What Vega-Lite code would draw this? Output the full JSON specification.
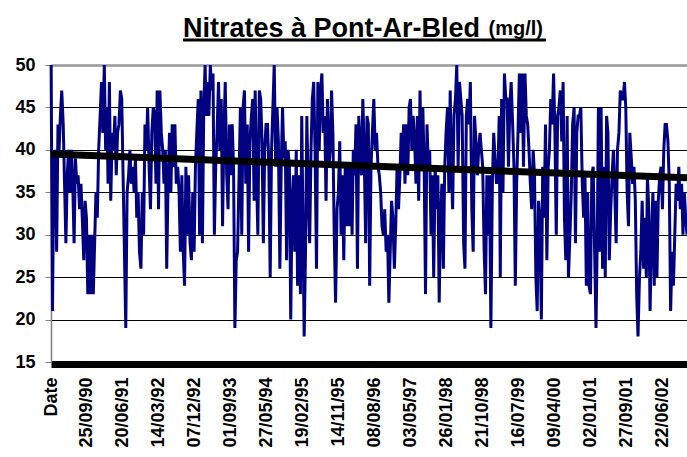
{
"$schema": "https://vega.github.io/schema/vega-lite/v6.json",
"width": 636, "height": 297,
"autosize": "none",
"padding": {"left": 51, "top": 65, "right": 0, "bottom": 95},
"background": "white",
"config": {"view": {"stroke": null}, "font": "Liberation Sans", "axis": {"labelOverlap": false}, "axisX": {"labelOverlap": false}},
"title": {"text": "Nitrates à Pont-Ar-Bled", "font": "Liberation Sans", "fontSize": 27, "fontWeight": "bold", "color": "black", "anchor": "start", "frame": "group", "dx": 132, "baseline": "alphabetic", "offset": -46},
"resolve": {"axis": {"x": "independent", "y": "independent"}},
"datasets": {
"nitrates": [
{"d":"1990-01-01","v":50},{"d":"1990-01-11","v":21},{"d":"1990-01-21","v":38},{"d":"1990-02-01","v":40},{"d":"1990-02-11","v":28},{"d":"1990-02-21","v":43},{"d":"1990-03-01","v":40},{"d":"1990-03-11","v":44},{"d":"1990-03-21","v":47},{"d":"1990-04-01","v":43},{"d":"1990-04-11","v":36},{"d":"1990-04-21","v":29},{"d":"1990-05-01","v":37},{"d":"1990-05-11","v":40},{"d":"1990-05-21","v":35},{"d":"1990-06-01","v":40},{"d":"1990-06-11","v":36},{"d":"1990-06-21","v":29},{"d":"1990-07-01","v":39},{"d":"1990-07-11","v":36},{"d":"1990-07-21","v":37},{"d":"1990-08-01","v":33},{"d":"1990-08-11","v":36},{"d":"1990-08-21","v":32},{"d":"1990-09-01","v":27},{"d":"1990-09-11","v":34},{"d":"1990-09-21","v":32},{"d":"1990-10-01","v":23},{"d":"1990-10-11","v":30},{"d":"1990-10-21","v":23},{"d":"1990-11-01","v":30},{"d":"1990-11-11","v":23},{"d":"1990-11-21","v":29},{"d":"1990-12-01","v":35},{"d":"1990-12-11","v":32},{"d":"1990-12-21","v":40},
{"d":"1991-01-01","v":44},{"d":"1991-01-11","v":48},{"d":"1991-01-21","v":42},{"d":"1991-02-01","v":50},{"d":"1991-02-11","v":40},{"d":"1991-02-21","v":45},{"d":"1991-03-01","v":36},{"d":"1991-03-11","v":48},{"d":"1991-03-21","v":34},{"d":"1991-04-01","v":42},{"d":"1991-04-11","v":40},{"d":"1991-04-21","v":44},{"d":"1991-05-01","v":37},{"d":"1991-05-11","v":42},{"d":"1991-05-21","v":43},{"d":"1991-06-01","v":47},{"d":"1991-06-11","v":46},{"d":"1991-06-21","v":37},{"d":"1991-07-01","v":28},{"d":"1991-07-11","v":19},{"d":"1991-07-21","v":35},{"d":"1991-08-01","v":37},{"d":"1991-08-11","v":40},{"d":"1991-08-21","v":36},{"d":"1991-09-01","v":38},{"d":"1991-09-11","v":35},{"d":"1991-09-21","v":39},{"d":"1991-10-01","v":32},{"d":"1991-10-11","v":35},{"d":"1991-10-21","v":28},{"d":"1991-11-01","v":26},{"d":"1991-11-11","v":35},{"d":"1991-11-21","v":30},{"d":"1991-12-01","v":43},{"d":"1991-12-11","v":40},{"d":"1991-12-21","v":45},
{"d":"1992-01-01","v":38},{"d":"1992-01-11","v":33},{"d":"1992-01-21","v":42},{"d":"1992-02-01","v":45},{"d":"1992-02-11","v":44},{"d":"1992-02-21","v":36},{"d":"1992-03-01","v":47},{"d":"1992-03-11","v":33},{"d":"1992-03-21","v":47},{"d":"1992-04-01","v":42},{"d":"1992-04-11","v":40},{"d":"1992-04-21","v":36},{"d":"1992-05-01","v":40},{"d":"1992-05-11","v":26},{"d":"1992-05-21","v":36},{"d":"1992-06-01","v":42},{"d":"1992-06-11","v":35},{"d":"1992-06-21","v":43},{"d":"1992-07-01","v":38},{"d":"1992-07-11","v":43},{"d":"1992-07-21","v":36},{"d":"1992-08-01","v":38},{"d":"1992-08-11","v":35},{"d":"1992-08-21","v":28},{"d":"1992-09-01","v":37},{"d":"1992-09-11","v":28},{"d":"1992-09-21","v":24},{"d":"1992-10-01","v":38},{"d":"1992-10-11","v":30},{"d":"1992-10-21","v":37},{"d":"1992-11-01","v":29},{"d":"1992-11-11","v":27},{"d":"1992-11-21","v":35},{"d":"1992-12-01","v":28},{"d":"1992-12-11","v":38},{"d":"1992-12-21","v":42},
{"d":"1993-01-01","v":46},{"d":"1993-01-11","v":30},{"d":"1993-01-21","v":47},{"d":"1993-02-01","v":29},{"d":"1993-02-11","v":45},{"d":"1993-02-21","v":50},{"d":"1993-03-01","v":44},{"d":"1993-03-11","v":48},{"d":"1993-03-21","v":44},{"d":"1993-04-01","v":50},{"d":"1993-04-11","v":47},{"d":"1993-04-21","v":49},{"d":"1993-05-01","v":30},{"d":"1993-05-11","v":38},{"d":"1993-05-21","v":42},{"d":"1993-06-01","v":48},{"d":"1993-06-11","v":40},{"d":"1993-06-21","v":46},{"d":"1993-07-01","v":31},{"d":"1993-07-11","v":42},{"d":"1993-07-21","v":48},{"d":"1993-08-01","v":37},{"d":"1993-08-11","v":33},{"d":"1993-08-21","v":43},{"d":"1993-09-01","v":37},{"d":"1993-09-11","v":43},{"d":"1993-09-21","v":38},{"d":"1993-10-01","v":19},{"d":"1993-10-11","v":27},{"d":"1993-10-21","v":28},{"d":"1993-11-01","v":37},{"d":"1993-11-11","v":45},{"d":"1993-11-21","v":30},{"d":"1993-12-01","v":45},{"d":"1993-12-11","v":47},{"d":"1993-12-21","v":36},
{"d":"1994-01-01","v":43},{"d":"1994-01-11","v":28},{"d":"1994-01-21","v":41},{"d":"1994-02-01","v":44},{"d":"1994-02-11","v":46},{"d":"1994-02-21","v":34},{"d":"1994-03-01","v":47},{"d":"1994-03-11","v":37},{"d":"1994-03-21","v":30},{"d":"1994-04-01","v":47},{"d":"1994-04-11","v":46},{"d":"1994-04-21","v":41},{"d":"1994-05-01","v":29},{"d":"1994-05-11","v":40},{"d":"1994-05-21","v":43},{"d":"1994-06-01","v":43},{"d":"1994-06-11","v":38},{"d":"1994-06-21","v":25},{"d":"1994-07-01","v":40},{"d":"1994-07-11","v":45},{"d":"1994-07-21","v":50},{"d":"1994-08-01","v":38},{"d":"1994-08-11","v":45},{"d":"1994-08-21","v":41},{"d":"1994-09-01","v":26},{"d":"1994-09-11","v":38},{"d":"1994-09-21","v":45},{"d":"1994-10-01","v":39},{"d":"1994-10-11","v":41},{"d":"1994-10-21","v":27},{"d":"1994-11-01","v":40},{"d":"1994-11-11","v":38},{"d":"1994-11-21","v":20},{"d":"1994-12-01","v":34},{"d":"1994-12-11","v":37},{"d":"1994-12-21","v":28},
{"d":"1995-01-01","v":40},{"d":"1995-01-11","v":24},{"d":"1995-01-21","v":37},{"d":"1995-02-01","v":23},{"d":"1995-02-11","v":44},{"d":"1995-02-21","v":30},{"d":"1995-03-01","v":18},{"d":"1995-03-11","v":28},{"d":"1995-03-21","v":44},{"d":"1995-04-01","v":34},{"d":"1995-04-11","v":29},{"d":"1995-04-21","v":40},{"d":"1995-05-01","v":46},{"d":"1995-05-11","v":48},{"d":"1995-05-21","v":40},{"d":"1995-06-01","v":26},{"d":"1995-06-11","v":48},{"d":"1995-06-21","v":40},{"d":"1995-07-01","v":47},{"d":"1995-07-11","v":49},{"d":"1995-07-21","v":42},{"d":"1995-08-01","v":44},{"d":"1995-08-11","v":34},{"d":"1995-08-21","v":46},{"d":"1995-09-01","v":38},{"d":"1995-09-11","v":40},{"d":"1995-09-21","v":47},{"d":"1995-10-01","v":42},{"d":"1995-10-11","v":30},{"d":"1995-10-21","v":22},{"d":"1995-11-01","v":33},{"d":"1995-11-11","v":35},{"d":"1995-11-21","v":41},{"d":"1995-12-01","v":30},{"d":"1995-12-11","v":37},{"d":"1995-12-21","v":27},
{"d":"1996-01-01","v":38},{"d":"1996-01-11","v":31},{"d":"1996-01-21","v":38},{"d":"1996-02-01","v":31},{"d":"1996-02-11","v":38},{"d":"1996-02-21","v":30},{"d":"1996-03-01","v":40},{"d":"1996-03-11","v":37},{"d":"1996-03-21","v":43},{"d":"1996-04-01","v":26},{"d":"1996-04-11","v":44},{"d":"1996-04-21","v":40},{"d":"1996-05-01","v":37},{"d":"1996-05-11","v":46},{"d":"1996-05-21","v":40},{"d":"1996-06-01","v":29},{"d":"1996-06-11","v":44},{"d":"1996-06-21","v":43},{"d":"1996-07-01","v":24},{"d":"1996-07-11","v":38},{"d":"1996-07-21","v":42},{"d":"1996-08-01","v":46},{"d":"1996-08-11","v":40},{"d":"1996-08-21","v":42},{"d":"1996-09-01","v":38},{"d":"1996-09-11","v":37},{"d":"1996-09-21","v":35},{"d":"1996-10-01","v":31},{"d":"1996-10-11","v":30},{"d":"1996-10-21","v":33},{"d":"1996-11-01","v":28},{"d":"1996-11-11","v":30},{"d":"1996-11-21","v":22},{"d":"1996-12-01","v":28},{"d":"1996-12-11","v":34},{"d":"1996-12-21","v":32},
{"d":"1997-01-01","v":26},{"d":"1997-01-11","v":31},{"d":"1997-01-21","v":38},{"d":"1997-02-01","v":33},{"d":"1997-02-11","v":37},{"d":"1997-02-21","v":42},{"d":"1997-03-01","v":38},{"d":"1997-03-11","v":43},{"d":"1997-03-21","v":36},{"d":"1997-04-01","v":43},{"d":"1997-04-11","v":37},{"d":"1997-04-21","v":45},{"d":"1997-05-01","v":46},{"d":"1997-05-11","v":40},{"d":"1997-05-21","v":44},{"d":"1997-06-01","v":41},{"d":"1997-06-11","v":36},{"d":"1997-06-21","v":44},{"d":"1997-07-01","v":34},{"d":"1997-07-11","v":47},{"d":"1997-07-21","v":38},{"d":"1997-08-01","v":45},{"d":"1997-08-11","v":38},{"d":"1997-08-21","v":23},{"d":"1997-09-01","v":43},{"d":"1997-09-11","v":38},{"d":"1997-09-21","v":40},{"d":"1997-10-01","v":30},{"d":"1997-10-11","v":37},{"d":"1997-10-21","v":25},{"d":"1997-11-01","v":38},{"d":"1997-11-11","v":33},{"d":"1997-11-21","v":37},{"d":"1997-12-01","v":22},{"d":"1997-12-11","v":32},{"d":"1997-12-21","v":36},
{"d":"1998-01-01","v":26},{"d":"1998-01-11","v":38},{"d":"1998-01-21","v":42},{"d":"1998-02-01","v":45},{"d":"1998-02-11","v":35},{"d":"1998-02-21","v":47},{"d":"1998-03-01","v":38},{"d":"1998-03-11","v":33},{"d":"1998-03-21","v":44},{"d":"1998-04-01","v":46},{"d":"1998-04-11","v":50},{"d":"1998-04-21","v":38},{"d":"1998-05-01","v":48},{"d":"1998-05-11","v":46},{"d":"1998-05-21","v":44},{"d":"1998-06-01","v":29},{"d":"1998-06-11","v":26},{"d":"1998-06-21","v":44},{"d":"1998-07-01","v":46},{"d":"1998-07-11","v":43},{"d":"1998-07-21","v":48},{"d":"1998-08-01","v":33},{"d":"1998-08-11","v":28},{"d":"1998-08-21","v":44},{"d":"1998-09-01","v":41},{"d":"1998-09-11","v":37},{"d":"1998-09-21","v":40},{"d":"1998-10-01","v":42},{"d":"1998-10-11","v":40},{"d":"1998-10-21","v":38},{"d":"1998-11-01","v":28},{"d":"1998-11-11","v":23},{"d":"1998-11-21","v":37},{"d":"1998-12-01","v":30},{"d":"1998-12-11","v":37},{"d":"1998-12-21","v":19},
{"d":"1999-01-01","v":36},{"d":"1999-01-11","v":42},{"d":"1999-01-21","v":39},{"d":"1999-02-01","v":36},{"d":"1999-02-11","v":37},{"d":"1999-02-21","v":44},{"d":"1999-03-01","v":25},{"d":"1999-03-11","v":46},{"d":"1999-03-21","v":35},{"d":"1999-04-01","v":49},{"d":"1999-04-11","v":46},{"d":"1999-04-21","v":46},{"d":"1999-05-01","v":38},{"d":"1999-05-11","v":45},{"d":"1999-05-21","v":48},{"d":"1999-06-01","v":43},{"d":"1999-06-11","v":38},{"d":"1999-06-21","v":24},{"d":"1999-07-01","v":36},{"d":"1999-07-11","v":42},{"d":"1999-07-21","v":49},{"d":"1999-08-01","v":42},{"d":"1999-08-11","v":49},{"d":"1999-08-21","v":38},{"d":"1999-09-01","v":49},{"d":"1999-09-11","v":44},{"d":"1999-09-21","v":43},{"d":"1999-10-01","v":40},{"d":"1999-10-11","v":36},{"d":"1999-10-21","v":33},{"d":"1999-11-01","v":40},{"d":"1999-11-11","v":37},{"d":"1999-11-21","v":25},{"d":"1999-12-01","v":21},{"d":"1999-12-11","v":34},{"d":"1999-12-21","v":32},
{"d":"2000-01-01","v":20},{"d":"2000-01-11","v":38},{"d":"2000-01-21","v":32},{"d":"2000-02-01","v":43},{"d":"2000-02-11","v":27},{"d":"2000-02-21","v":38},{"d":"2000-03-01","v":40},{"d":"2000-03-11","v":46},{"d":"2000-03-21","v":43},{"d":"2000-04-01","v":49},{"d":"2000-04-11","v":42},{"d":"2000-04-21","v":30},{"d":"2000-05-01","v":44},{"d":"2000-05-11","v":45},{"d":"2000-05-21","v":47},{"d":"2000-06-01","v":41},{"d":"2000-06-11","v":48},{"d":"2000-06-21","v":32},{"d":"2000-07-01","v":27},{"d":"2000-07-11","v":44},{"d":"2000-07-21","v":25},{"d":"2000-08-01","v":30},{"d":"2000-08-11","v":35},{"d":"2000-08-21","v":43},{"d":"2000-09-01","v":45},{"d":"2000-09-11","v":29},{"d":"2000-09-21","v":42},{"d":"2000-10-01","v":44},{"d":"2000-10-11","v":44},{"d":"2000-10-21","v":45},{"d":"2000-11-01","v":36},{"d":"2000-11-11","v":32},{"d":"2000-11-21","v":37},{"d":"2000-12-01","v":24},{"d":"2000-12-11","v":35},{"d":"2000-12-21","v":24},
{"d":"2001-01-01","v":23},{"d":"2001-01-11","v":37},{"d":"2001-01-21","v":38},{"d":"2001-02-01","v":28},{"d":"2001-02-11","v":19},{"d":"2001-02-21","v":30},{"d":"2001-03-01","v":45},{"d":"2001-03-11","v":28},{"d":"2001-03-21","v":45},{"d":"2001-04-01","v":26},{"d":"2001-04-11","v":38},{"d":"2001-04-21","v":25},{"d":"2001-05-01","v":44},{"d":"2001-05-11","v":42},{"d":"2001-05-21","v":27},{"d":"2001-06-01","v":33},{"d":"2001-06-11","v":37},{"d":"2001-06-21","v":40},{"d":"2001-07-01","v":35},{"d":"2001-07-11","v":29},{"d":"2001-07-21","v":40},{"d":"2001-08-01","v":42},{"d":"2001-08-11","v":47},{"d":"2001-08-21","v":46},{"d":"2001-09-01","v":46},{"d":"2001-09-11","v":48},{"d":"2001-09-21","v":45},{"d":"2001-10-01","v":35},{"d":"2001-10-11","v":31},{"d":"2001-10-21","v":42},{"d":"2001-11-01","v":39},{"d":"2001-11-11","v":36},{"d":"2001-11-21","v":38},{"d":"2001-12-01","v":34},{"d":"2001-12-11","v":23},{"d":"2001-12-21","v":18},
{"d":"2002-01-01","v":25},{"d":"2002-01-11","v":28},{"d":"2002-01-21","v":34},{"d":"2002-02-01","v":26},{"d":"2002-02-11","v":32},{"d":"2002-02-21","v":25},{"d":"2002-03-01","v":37},{"d":"2002-03-11","v":33},{"d":"2002-03-21","v":21},{"d":"2002-04-01","v":30},{"d":"2002-04-11","v":35},{"d":"2002-04-21","v":24},{"d":"2002-05-01","v":34},{"d":"2002-05-11","v":25},{"d":"2002-05-21","v":34},{"d":"2002-06-01","v":37},{"d":"2002-06-11","v":38},{"d":"2002-06-21","v":33},{"d":"2002-07-01","v":40},{"d":"2002-07-11","v":43},{"d":"2002-07-21","v":43},{"d":"2002-08-01","v":41},{"d":"2002-08-11","v":36},{"d":"2002-08-21","v":21},{"d":"2002-09-01","v":28},{"d":"2002-09-11","v":24},{"d":"2002-09-21","v":30},{"d":"2002-10-01","v":36},{"d":"2002-10-11","v":34},{"d":"2002-10-21","v":38},{"d":"2002-11-01","v":33},{"d":"2002-11-11","v":36},{"d":"2002-11-21","v":30},{"d":"2002-12-01","v":35},{"d":"2002-12-11","v":32},{"d":"2002-12-21","v":30}
],
"trend": [{"d":"1989-12-31","v":39.5},{"d":"2002-12-21","v":36.7}]
},
"layer": [
{
"encoding": {
"x": {"field": "d", "type": "temporal",
"scale": {"type": "utc", "domain": [{"year": 1989, "month": 12, "date": 31, "utc": true}, {"year": 2002, "month": 12, "date": 21, "utc": true}]},
"axis": {"title": null, "grid": false, "ticks": false, "domainColor": "black", "domainWidth": 7, "offset": 2,
"values": [{"year":1989,"month":12,"date":31,"utc":true},{"year":1990,"month":9,"date":25,"utc":true},{"year":1991,"month":6,"date":20,"utc":true},{"year":1992,"month":3,"date":14,"utc":true},{"year":1992,"month":12,"date":7,"utc":true},{"year":1993,"month":9,"date":1,"utc":true},{"year":1994,"month":5,"date":27,"utc":true},{"year":1995,"month":2,"date":19,"utc":true},{"year":1995,"month":11,"date":14,"utc":true},{"year":1996,"month":8,"date":8,"utc":true},{"year":1997,"month":5,"date":3,"utc":true},{"year":1998,"month":1,"date":26,"utc":true},{"year":1998,"month":10,"date":21,"utc":true},{"year":1999,"month":7,"date":16,"utc":true},{"year":2000,"month":4,"date":9,"utc":true},{"year":2001,"month":1,"date":2,"utc":true},{"year":2001,"month":9,"date":27,"utc":true},{"year":2002,"month":6,"date":22,"utc":true}],
"labelExpr": "datum.value < utc(1990, 0, 1) ? 'Date' : utcFormat(datum.value, '%d/%m/%y')",
"labelAngle": -90, "labelFont": "Liberation Sans", "labelFontSize": 18, "labelFontWeight": "bold", "labelColor": "black", "labelPadding": 13, "labelOverlap": false, "labelSeparation": 0, "labelFlush": false, "labelBound": false}
},
"y": {"field": "v", "type": "quantitative",
"scale": {"domain": [15, 50], "zero": false, "nice": false},
"axis": {"values": [15, 20, 25, 30, 35, 40, 45, 50],
"title": "(mg/l)", "titleAngle": 0, "titleX": 437, "titleY": -31, "titleAlign": "left", "titleBaseline": "alphabetic", "titleFont": "Liberation Sans", "titleFontSize": 20, "titleFontWeight": "bold", "titleColor": "black",
"labelFont": "Liberation Sans", "labelFontSize": 18, "labelFontWeight": "bold", "labelColor": "black", "labelPadding": 10, "labelFlush": false,
"tickSize": 6, "tickColor": "#808080", "domainColor": "#808080", "domainWidth": 1.5,
"grid": true,
"gridColor": {"condition": {"test": "datum.value == 50", "value": "#999999"}, "value": "black"},
"gridWidth": {"condition": {"test": "datum.value == 50", "value": 2.5}, "value": 1}}
}
},
"layer": [
{"data": {"name": "nitrates"}, "mark": {"type": "line", "color": "#000080", "strokeWidth": 3}},
{"data": {"name": "trend"}, "mark": {"type": "line", "color": "black", "strokeWidth": 7}}
]
},
{
"data": {"values": [{}]},
"mark": {"type": "rule", "color": "black", "strokeWidth": 3, "clip": false},
"encoding": {
"x": {"datum": {"year": 1992, "month": 9, "date": 9, "utc": true}, "type": "temporal", "axis": null},
"x2": {"datum": {"year": 2000, "month": 2, "date": 5, "utc": true}},
"y": {"datum": 52.95, "type": "quantitative", "axis": null}
}
}
]
}
